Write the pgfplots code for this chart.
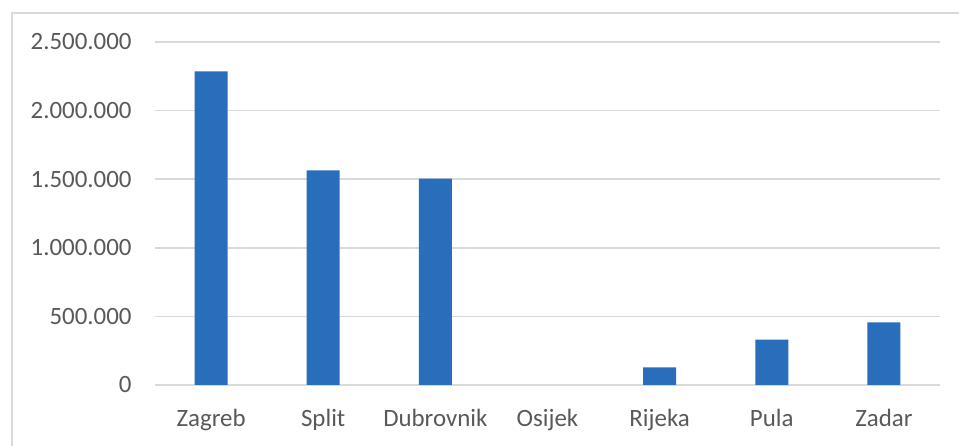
\documentclass[border=0pt]{standalone}
\usepackage{pgfplots}
\pgfplotsset{compat=1.18}
\usepackage{fontspec}
\setmainfont{Carlito}

\definecolor{barblue}{RGB}{40,110,186}
\definecolor{gridgray}{RGB}{217,217,217}
\definecolor{txtgray}{RGB}{89,89,89}

\begin{document}
\begin{tikzpicture}
% page size = 959x446 px at 0.5bp per px
\path[use as bounding box, fill=white] (0,0) rectangle (479.5bp,223bp);
\draw[gridgray, line width=0.8bp] (6bp,-5bp) rectangle (490bp,216.5bp);
\begin{axis}[
    at={(77.5bp,30.5bp)}, anchor=south west,
    scale only axis,
    width=392.5bp, height=171.5bp,
    ybar, bar width=16.5bp,
    xmin=-0.5, xmax=6.5,
    ymin=0, ymax=2500000,
    xtick=data,
    xticklabels={Zagreb, Split, Dubrovnik, Osijek, Rijeka, Pula, Zadar},
    ytick={0,500000,1000000,1500000,2000000,2500000},
    scaled y ticks=false,
    /pgf/number format/fixed,
    /pgf/number format/1000 sep={.},
    /pgf/number format/assume math mode=true,
    y tick label style={inner sep=0pt, anchor=east, xshift=-11.5bp},
    x tick label style={inner sep=0pt, anchor=north, yshift=-12bp},
    tick label style={font=\fontsize{12.5}{15}\selectfont, text=txtgray},
    major tick length=0pt,
    axis line style={draw=none},
    ymajorgrids,
    grid style={gridgray, line width=0.8bp},
    ]
\addplot[fill=barblue, draw=none] coordinates {
    (0,2285000) (1,1565000) (2,1505000) (3,0) (4,128000) (5,330000) (6,456000)
};
\end{axis}
\end{tikzpicture}
\end{document}
